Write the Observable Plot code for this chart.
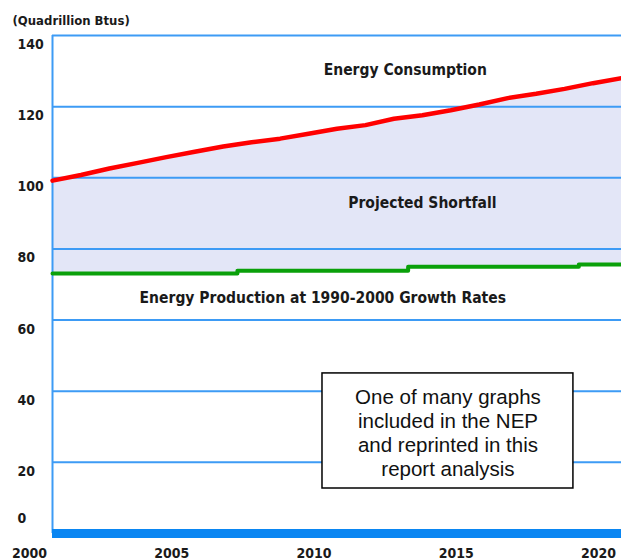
<!DOCTYPE html>
<html>
<head>
<meta charset="utf-8">
<script src="https://cdn.jsdelivr.net/npm/d3@7"></script>
<script src="https://cdn.jsdelivr.net/npm/@observablehq/plot@0.6"></script>
<style>
  html, body { margin: 0; padding: 0; background: #fff; }
  #chart svg { display: block; }
</style>
</head>
<body>
<div id="chart"></div>
<script>
// ---- data ----
const years = [2000, 2001, 2002, 2003, 2004, 2005, 2006, 2007, 2008, 2009, 2010,
               2011, 2012, 2013, 2014, 2015, 2016, 2017, 2018, 2019, 2020];
const consumption = [99.2, 100.8, 102.6, 104.2, 105.8, 107.3, 108.8, 110.0, 111.0, 112.4, 113.8,
                     114.8, 116.6, 117.6, 119.0, 120.6, 122.4, 123.6, 125.0, 126.6, 128.0];
const production = [73.1, 73.1, 73.1, 73.1, 73.1, 73.1, 73.1, 73.9, 73.9, 73.9, 73.9,
                    73.9, 73.9, 75.0, 75.0, 75.0, 75.0, 75.0, 75.0, 75.6, 75.6];
const xTicks = [2000, 2005, 2010, 2015, 2020];
const yTicks = [20, 40, 60, 80, 100, 120, 140];
const subtitle = "(Quadrillion Btus)";
const seriesLabels = [
  {year: 2012.4, value: 130.2, text: "Energy Consumption"},
  {year: 2013.0, value: 92.8, text: "Projected Shortfall"},
  {year: 2009.5, value: 66.1, text: "Energy Production at 1990-2000 Growth Rates"}
];
const noteText = "One of many graphs\nincluded in the NEP\nand reprinted in this\nreport analysis";
const noteBox = {x1: 2009.49, x2: 2018.31, y1: 12.65, y2: 45.0, cx: 2013.9, cy: 28.4};

const table = years.map((y, i) => ({year: y, consumption: consumption[i], production: production[i]}));

const condensed = "'Liberation Sans Narrow', 'DejaVu Sans Condensed', 'Arial Narrow', sans-serif";
const grid = "#3d9bf5";

const chart = Plot.plot({
  width: 621,
  height: 560,
  marginLeft: 52,
  marginRight: 0,
  marginTop: 35,
  marginBottom: 27,
  style: {fontFamily: condensed, background: "#fff", color: "#1a1a1a", overflow: "visible"},
  x: {domain: [2000, 2020], label: null},
  y: {domain: [0, 140], label: null},
  marks: [
    Plot.areaY(table, {x: "year", y: "consumption", fill: "#e3e6f7"}),
    Plot.areaY(table, {x: "year", y: "production", curve: "step", fill: "#ffffff"}),
    Plot.ruleY(yTicks, {stroke: grid, strokeWidth: 2}),
    Plot.ruleX([2000], {y1: 0, y2: 140, stroke: grid, strokeWidth: 2}),
    Plot.ruleY([0], {stroke: "#0a86f2", strokeWidth: 9}),
    Plot.lineY(table, {x: "year", y: "production", curve: "step", stroke: "#0aa00a", strokeWidth: 4}),
    Plot.lineY(table, {x: "year", y: "consumption", stroke: "#ff0000", strokeWidth: 4.5}),
    Plot.text(seriesLabels, {x: "year", y: "value", text: "text", fontSize: 15.5, fontWeight: "bold", fill: "#1a1a1a"}),
    Plot.rect([noteBox], {x1: "x1", x2: "x2", y1: "y1", y2: "y2", fill: "#fff", stroke: "#000", strokeWidth: 1.5}),
    Plot.text([noteBox], {x: "cx", y: "cy", text: () => noteText, fontSize: 20.5, lineHeight: 1.17,
      fontFamily: "'Liberation Sans', Arial, sans-serif", fill: "#111"}),
    Plot.text([subtitle], {frameAnchor: "top-left", dx: -40, dy: -15, textAnchor: "start", lineAnchor: "middle",
      fontSize: 13, fontWeight: "bold", fill: "#1a1a1a"}),
    Plot.axisX(xTicks, {tickSize: 0, tickPadding: 15, dx: -23, tickFormat: d => String(d),
      fontSize: 14, fontWeight: "bold", label: null}),
    Plot.axisY(yTicks, {tickSize: 0, tickPadding: 0, dx: -35, dy: 9, textAnchor: "start",
      fontSize: 14, fontWeight: "bold", label: null}),
    Plot.axisY([0], {tickSize: 0, tickPadding: 0, dx: -35, dy: -15, textAnchor: "start",
      fontSize: 14, fontWeight: "bold", label: null})
  ]
});
document.getElementById("chart").appendChild(chart);
</script>
</body>
</html>
